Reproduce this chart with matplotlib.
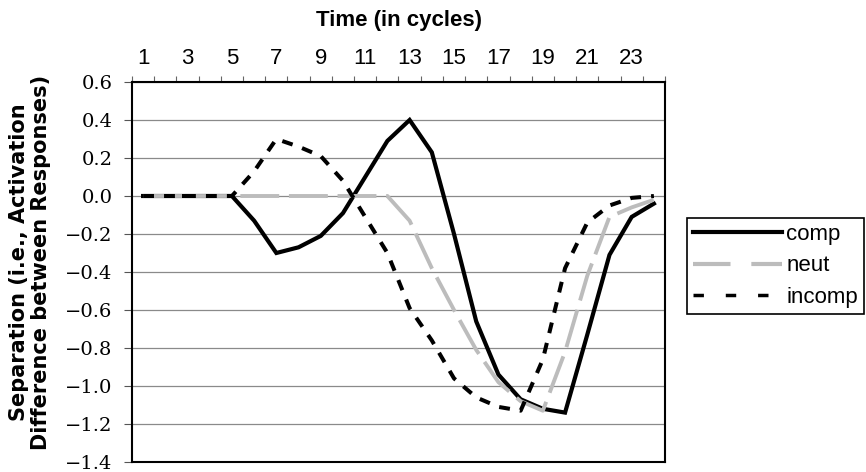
import matplotlib.pyplot as plt
from matplotlib.lines import Line2D

# values
cycles = list(range(1, 25))
comp = [0, 0, 0, 0, 0, -0.13, -0.30, -0.27, -0.21, -0.09, 0.10, 0.29,
        0.40, 0.23, -0.20, -0.66, -0.94, -1.07, -1.12, -1.14, -0.73, -0.31, -0.11, -0.04]
neut = [0, 0, 0, 0, 0, 0, 0, 0, 0, 0, 0, 0,
        -0.13, -0.38, -0.60, -0.81, -0.98, -1.08, -1.13, -0.82, -0.42, -0.11, -0.06, -0.02]
incomp = [0, 0, 0, 0, 0, 0.13, 0.30, 0.26, 0.21, 0.08, -0.11, -0.30,
          -0.59, -0.76, -0.96, -1.06, -1.11, -1.13, -0.86, -0.38, -0.14, -0.05, -0.01, 0.0]
series_names = ["comp", "neut", "incomp"]
x_label_pos = list(range(1, 24, 2))
x_labels = [str(c) for c in x_label_pos]
y_ticks = [-1.4, -1.2, -1.0, -0.8, -0.6, -0.4, -0.2, 0.0, 0.2, 0.4, 0.6]
y_labels = [f"{v:.1f}".replace("-", "\u2212") for v in y_ticks]

fig = plt.figure(figsize=(8.66, 4.72), dpi=100)
ax = fig.add_axes([132 / 866, 10 / 472, 533 / 866, 380 / 472])

# comp sits underneath: on the flat start only the dashed lines show
comp_line, = ax.plot(cycles, comp, color="black", lw=3, solid_joinstyle="miter", zorder=2)
neut_line, = ax.plot(cycles, neut, color="#bcbcbc", lw=2.8, dashes=(10, 2.5), zorder=3)
incomp_line, = ax.plot(cycles, incomp, color="black", lw=2.9, dashes=(2.7, 2.5), zorder=4)

ax.set_xlim(0.5, 24.5)
ax.set_ylim(-1.4, 0.6)

# category boundaries carry the tick marks, labels sit in the middle
ax.set_xticks([c - 0.5 for c in cycles] + [24.5])
ax.set_xticklabels([])
ax.set_xticks(x_label_pos, labels=x_labels, minor=True)
ax.tick_params(axis="x", which="both", top=True, bottom=False,
               labeltop=True, labelbottom=False)
ax.tick_params(axis="x", which="major", direction="out", length=4, width=0.8, color="#666666")
ax.tick_params(axis="x", which="minor", length=0, pad=9.5, labelsize=16)
for lbl in ax.get_xticklabels(minor=True):
    lbl.set_fontfamily("Liberation Sans")

ax.set_yticks(y_ticks, labels=y_labels, fontfamily="DejaVu Serif", fontsize=14)
ax.tick_params(axis="y", direction="out", length=6, width=0.8, color="#555555", pad=8)

ax.yaxis.grid(True, color="#8a8a8a", lw=0.9)
ax.set_axisbelow(True)
for s in ax.spines.values():
    s.set_linewidth(1.5)
    s.set_color("black")

fig.text(398.5 / 866, 1 - 26 / 472, "Time (in cycles)", ha="center", va="baseline",
         fontsize=16, fontweight="bold", family="Liberation Sans")
fig.text(30 / 866, 1 - 262 / 472, "Separation (i.e., Activation\nDifference between Responses)",
         rotation=90, ha="center", va="center", multialignment="center",
         fontsize=15, fontweight="bold", family="DejaVu Sans", linespacing=1.1)

handles = [
    Line2D([], [], color="black", lw=3),
    Line2D([], [], color="#bcbcbc", lw=3, dashes=(9, 5)),
    Line2D([], [], color="black", lw=2.5, dashes=(3.0, 6.3)),
]
leg = fig.legend(handles, series_names, loc="upper left",
                 bbox_to_anchor=(687 / 866, 1 - 218 / 472), bbox_transform=fig.transFigure,
                 fancybox=False, framealpha=1, edgecolor="black",
                 prop={"family": "Liberation Sans", "size": 16},
                 handlelength=4.0, handletextpad=0.2, borderpad=0.27,
                 labelspacing=0.47, borderaxespad=0)
leg.get_frame().set_linewidth(1.2)

fig.savefig("out.png", dpi=100)
